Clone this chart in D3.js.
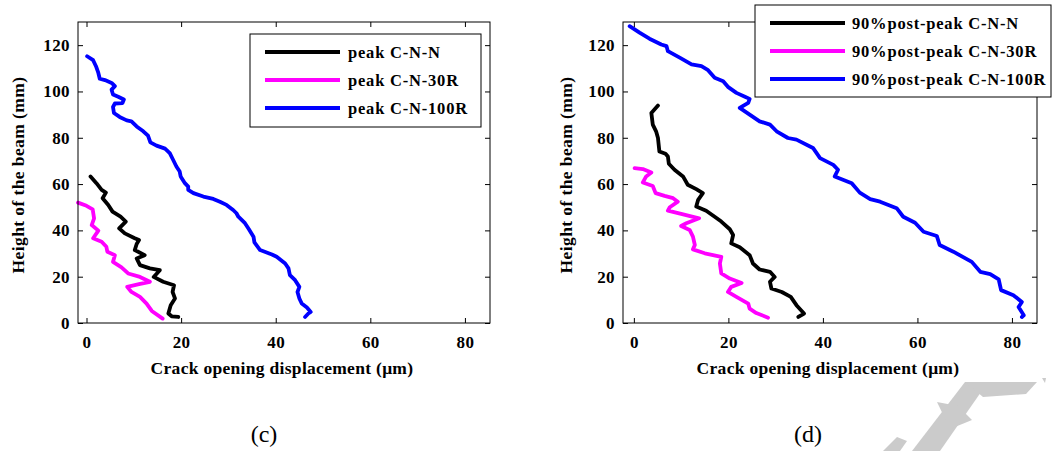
<!DOCTYPE html>
<html>
<head>
<meta charset="utf-8">
<script src="https://cdn.jsdelivr.net/npm/d3@7"></script>
<style>
  body { margin: 0; background: #fff; }
  svg { display: block; font-family: "Liberation Serif", "Times New Roman", serif; }
</style>
</head>
<body>
<div id="chart"></div>
<script>
// crack opening displacement (um) vs height of the beam (mm)
const xTicks = [0, 20, 40, 60, 80];
const yTicks = [0, 20, 40, 60, 80, 100, 120];

const peakCNN = [[0.85,63.3],[2.1,60.4],[3.2,57.5],[4.1,56.3],[3.4,53.9],[4.6,51],[5.5,48.1],[7.2,45.9],[8.3,43.8],[6.9,40.9],[8.1,38.7],[10.2,36.6],[11.1,35.8],[10.6,34.1],[10.2,31.5],[12.3,29.3],[10.6,27.9],[11.3,25],[13.4,23.6],[15.5,22.8],[14.2,19.9],[16.2,17.8],[18.5,16.3],[18.2,13.4],[18.7,10.6],[17.8,7.7],[17.3,4.1],[18.0,2.9],[19.4,2.6]];
const peakCN30R = [[-1.8,52],[0,50.6],[1.3,49.1],[1.6,45.2],[1.1,42.3],[2.5,39.9],[1.4,36.6],[3.2,35.1],[4.2,32.9],[4.4,30.8],[6.0,29.3],[5.6,26.4],[7.4,24],[8.8,21.4],[11.3,19.9],[13.4,17.8],[11.1,16.8],[8.6,15.6],[9.5,13.4],[11.3,11.3],[12.7,8.4],[13.8,5.2],[16.1,1.9]];
const peakCN100R = [[0.13,115.2],[1.4,113.5],[2.0,110.9],[2.5,108],[2.8,105.5],[3.9,104.9],[5.3,103.7],[6.0,102.3],[5.3,100.8],[5.6,98.7],[6.7,97.7],[7.9,96.5],[7.6,95],[6.0,94.8],[5.6,93.3],[5.8,90.7],[7.0,89],[8.5,87.5],[9.5,87.1],[10.6,84.9],[12.0,82.8],[13.0,80.9],[13.5,78],[14.8,76.6],[16.6,75.3],[17.6,73.4],[18.3,70.5],[19.0,67.6],[19.7,65.4],[19.9,63.3],[20.8,60.4],[21.5,58.9],[21.5,57.5],[22.6,56.1],[24.7,54.6],[26.8,53.6],[28.2,52.4],[29.6,51],[31.0,48.8],[31.7,47.4],[32.1,45.9],[33.5,43.1],[34.3,40.6],[35.3,37.3],[35.5,34.8],[36.7,31.5],[39.2,29.6],[40.2,28.6],[42.0,25.7],[42.7,23.6],[43.0,20.7],[44.1,18.5],[45.0,15.6],[44.6,13.4],[45.0,10.6],[45.5,8.4],[46.6,6.7],[47.4,4.8],[46.9,4.1],[46.2,2.6]];

const postCNN = [[5.1,93.9],[3.7,90.7],[4.0,85.7],[4.7,82.8],[5.1,79.9],[5.4,74.1],[6.7,73.1],[7.2,71.9],[7.4,68.8],[8.6,66.2],[10.4,63.3],[11.4,59.7],[13.2,57.8],[14.6,56.1],[13.6,53.2],[13.2,50.3],[15.3,48.5],[17.1,45.9],[18.5,43.8],[20.3,40.5],[21.0,38],[20.6,34.4],[22.4,32.7],[24.5,29.3],[25.2,25.7],[26.6,23.1],[28.8,22.1],[29.8,19.9],[28.8,17.8],[29.1,14.9],[31.3,13.4],[33.2,11.3],[34.4,7.7],[36.0,4.1],[34.8,2.6]];
const postCN30R = [[0.15,66.9],[1.9,66.5],[3.7,65],[2.6,63.3],[1.9,60.7],[4.0,59.2],[4.6,56.1],[6.5,54.9],[8.3,53.9],[9.3,52.4],[7.6,50],[7.2,48.5],[10.0,47.1],[13.8,45.2],[11.1,43.1],[10.0,41.9],[11.8,40.2],[12.5,37.3],[12.9,33.7],[12.5,31.8],[15.0,30.1],[18.5,28.6],[18.2,25.7],[18.5,21.4],[20.3,19.2],[22.8,17.3],[20.6,15.6],[19.9,13.4],[21.7,11.3],[24.2,8.4],[24.5,6.2],[25.9,4.3],[28.4,2.3]];
const postCN100R = [[-0.9,128.2],[1.2,125.4],[3.3,122.8],[5.8,120.3],[6.9,119.6],[7.2,117.4],[9.7,114.6],[12.2,111.7],[14.3,110.9],[15.7,109.2],[17.1,105.9],[18.9,104.4],[19.9,102],[21.7,99.4],[23.5,97.7],[24.5,96.8],[24.2,95.1],[22.4,92.9],[24.5,90],[26.6,87.1],[28.8,85.7],[30.2,82.8],[32.6,79.9],[34.4,79.2],[37.9,75.6],[39.4,71.2],[42.2,68.3],[43.2,66.2],[42.5,63.3],[46.1,60.4],[47.8,56.3],[50.0,53.5],[52.1,52.4],[55.6,49.6],[57.0,45.9],[59.5,43.3],[61.3,39.4],[64.1,37.6],[64.7,33.7],[67.6,30.8],[71.5,26.4],[73.3,22.1],[75.4,21.1],[77.2,18.8],[77.7,14.2],[80.3,12],[82.1,9.1],[81.4,6.9],[82.5,3.3],[82.1,2.6]];

const seriesColors = ["#000000", "#ff00ff", "#0000ff"];
const peakNames = ["peak C-N-N", "peak C-N-30R", "peak C-N-100R"];
const postNames = ["90%post-peak C-N-N", "90%post-peak C-N-30R", "90%post-peak C-N-100R"];

const width = 1052, height = 451;

const svg = d3.select("#chart")
    .append("svg")
    .attr("width", width)
    .attr("height", height);

// faint watermark in the lower right corner of the scan
const mark = svg.append("g").attr("fill", "#cbcbcb");
[
    [[912,451],[940,451],[988,382],[965,382]],
    [[965,382],[1037,382],[1026,394],[983,397]],
    [[937,402],[958,406],[972,420],[950,429]],
    [[883,451],[897,437],[907,441],[900,451]],
    [[1042,378],[1046,378],[1045,383]]
].forEach(p => mark.append("polygon").attr("points", p.join(" ")));

const panels = [
    { left: 78, right: 490, xDomain: [-1.8, 85.3], series: [peakCNN, peakCN30R, peakCN100R], names: peakNames,
      legend: { x: 250, y: 34, w: 231, h: 93, lineX: 15, lineW: 75, textX: 98, rowY: 18, rowStep: 28 },
      yLabelX: 24, tag: "(c)", tagX: 264 },
    { left: 623, right: 1037, xDomain: [-2.3, 85.3], series: [postCNN, postCN30R, postCN100R], names: postNames,
      legend: { x: 755, y: 5, w: 296, h: 92, lineX: 15, lineW: 75, textX: 97, rowY: 18, rowStep: 28 },
      yLabelX: 572, tag: "(d)", tagX: 808 }
];

const plotTop = 22, plotBottom = 323;

panels.forEach(p => {
    const x = d3.scaleLinear().domain(p.xDomain).range([p.left, p.right]);
    const y = d3.scaleLinear().domain([0, 130]).range([plotBottom, plotTop]);
    const g = svg.append("g");

    const line = d3.line()
        .x(d => x(d[0]))
        .y(d => y(d[1]));

    p.series.forEach((s, i) => {
        g.append("path")
            .datum(s)
            .attr("d", line)
            .attr("fill", "none")
            .attr("stroke", seriesColors[i])
            .attr("stroke-width", 3.8)
            .attr("stroke-linejoin", "round")
            .attr("stroke-linecap", "round");
    });

    // box with inward ticks on all sides
    g.append("rect")
        .attr("x", p.left).attr("y", plotTop)
        .attr("width", p.right - p.left).attr("height", plotBottom - plotTop)
        .attr("fill", "none").attr("stroke", "#000").attr("stroke-width", 1);

    const axB = g.append("g").attr("transform", `translate(0,${plotBottom})`)
        .call(d3.axisBottom(x).tickValues(xTicks).tickSizeInner(-5).tickSizeOuter(0).tickPadding(13));
    g.append("g").attr("transform", `translate(0,${plotTop})`)
        .call(d3.axisTop(x).tickValues(xTicks).tickSizeInner(-5).tickSizeOuter(0).tickFormat(""));
    const axL = g.append("g").attr("transform", `translate(${p.left},0)`)
        .call(d3.axisLeft(y).tickValues(yTicks).tickSizeInner(-5).tickSizeOuter(0).tickPadding(8));
    g.append("g").attr("transform", `translate(${p.right},0)`)
        .call(d3.axisRight(y).tickValues(yTicks).tickSizeInner(-5).tickSizeOuter(0).tickFormat(""));

    g.selectAll(".domain").remove();
    g.selectAll(".tick line").attr("stroke", "#000");
    [axB, axL].forEach(a => a.selectAll("text")
        .attr("font-family", "Liberation Serif")
        .attr("font-weight", "bold")
        .attr("font-size", 17)
        .attr("letter-spacing", 0.4)
        .attr("fill", "#000"));

    g.append("text")
        .attr("x", (p.left + p.right) / 2 - 2)
        .attr("y", 374)
        .attr("text-anchor", "middle")
        .attr("font-weight", "bold")
        .attr("font-size", 17.5)
        .attr("letter-spacing", 0.3)
        .text("Crack opening displacement (\u03bcm)");

    g.append("text")
        .attr("transform", `translate(${p.yLabelX},175) rotate(-90)`)
        .attr("text-anchor", "middle")
        .attr("font-weight", "bold")
        .attr("font-size", 17.5)
        .attr("letter-spacing", 0.4)
        .text("Height of the beam (mm)");

    g.append("text")
        .attr("x", p.tagX)
        .attr("y", 442)
        .attr("text-anchor", "middle")
        .attr("font-size", 24)
        .text(p.tag);

    // legend
    const L = p.legend;
    const lg = g.append("g").attr("transform", `translate(${L.x},${L.y})`);
    lg.append("rect")
        .attr("width", L.w).attr("height", L.h)
        .attr("fill", "#fff").attr("stroke", "#000").attr("stroke-width", 1);
    p.names.forEach((name, i) => {
        const ry = L.rowY + i * L.rowStep;
        lg.append("line")
            .attr("x1", L.lineX).attr("x2", L.lineX + L.lineW)
            .attr("y1", ry).attr("y2", ry)
            .attr("stroke", seriesColors[i]).attr("stroke-width", 4);
        lg.append("text")
            .attr("x", L.textX).attr("y", ry + 6)
            .attr("font-weight", "bold")
            .attr("font-size", 16.5)
            .attr("letter-spacing", 0.8)
            .text(name);
    });
});
</script>
</body>
</html>
